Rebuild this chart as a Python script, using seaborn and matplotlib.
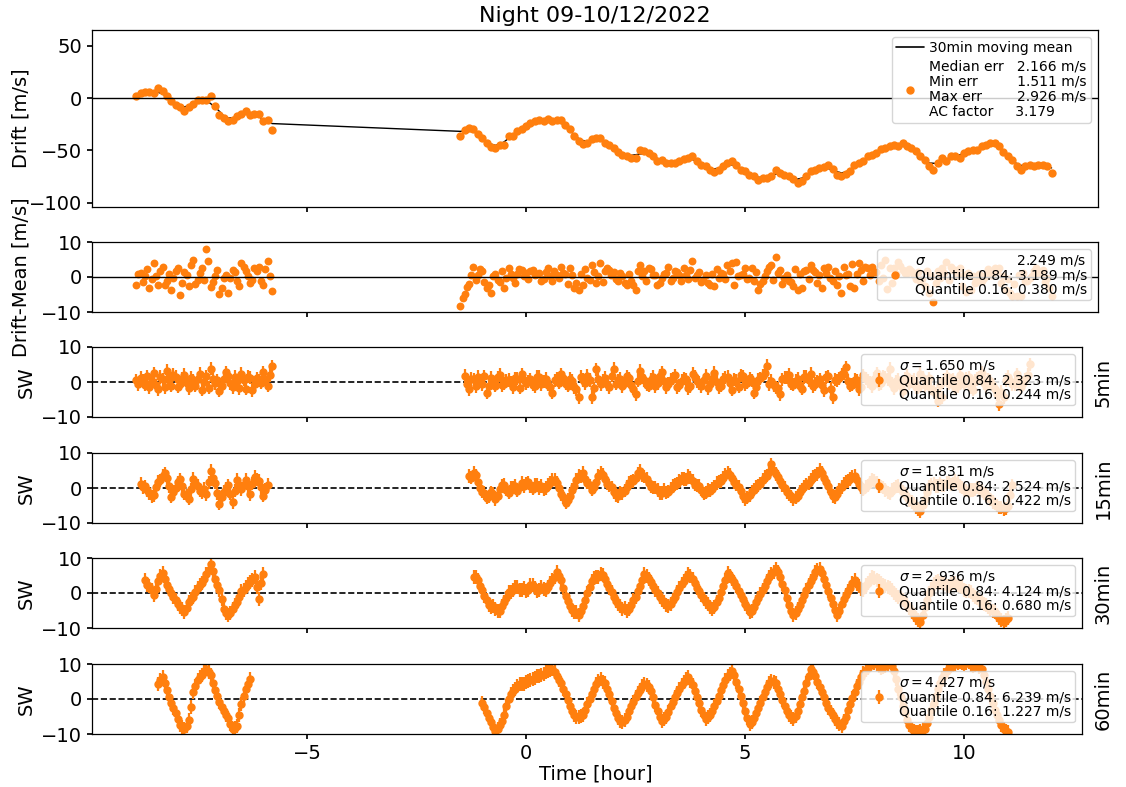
import numpy as np
import pandas as pd
import matplotlib
matplotlib.use("Agg")
import matplotlib.pyplot as plt
import seaborn as sns
from matplotlib.lines import Line2D

# ---------------- data ----------------
CADENCE = 0.1   # hours between samples of the main lists
HALF = 0.05     # the "_mid" lists are read half-way between those samples

# Drift [m/s]
drift_seg1_t0 = -8.9
drift_seg1 = [1.6, 4.8, 5.4, 6.0, 4.8, 9.5, 6.3, 1.6, -3.2, -6.3, -8.6, -12.7, -8.6, -5.4,
              -1.6, -2.2, -2.2, 1.6, -7.9, -15.9, -19.0, -22.2, -20.6, -17.5, -14.9, -12.7,
              -15.9, -14.9, -14.9, -22.2, -20.6, -30.2]
drift_seg2_t0 = -1.5
drift_seg2 = [-36.5, -30.2, -28.6, -29.5, -34.0, -38.0, -42.9, -46.7, -47.6, -44.4, -44.4,
              -36.5, -35.9, -31.7, -29.5, -27.0, -23.8, -22.2, -21.3, -22.2, -20.0, -22.2,
              -21.3, -21.3, -25.4, -29.5, -35.9, -41.3, -43.5, -42.9, -39.0, -38.0, -38.0,
              -42.9, -44.4, -47.6, -51.7, -54.0, -55.6, -57.1, -57.1, -49.8, -50.8, -52.4,
              -54.9, -60.3, -58.7, -61.9, -61.9, -61.9, -60.3, -58.1, -57.1, -54.9, -60.3,
              -63.5, -65.1, -68.3, -70.8, -68.3, -65.1, -61.9, -60.3, -63.5, -68.3, -69.8,
              -73.0, -74.6, -77.8, -76.2, -76.2, -74.6, -68.3, -71.4, -73.0, -74.6, -77.1,
              -81.0, -79.4, -74.6, -69.8, -68.3, -66.7, -65.7, -63.5, -67.6, -73.0, -74.6,
              -72.1, -69.8, -63.5, -61.9, -60.3, -55.6, -54.0, -52.4, -48.6, -47.6, -46.0,
              -44.4, -46.0, -42.9, -46.0, -47.6, -50.8, -55.6, -58.7, -65.1, -68.3, -61.9,
              -57.1, -60.3, -55.6, -54.9, -57.1, -52.4, -50.8, -49.2, -49.2, -46.0, -44.4,
              -42.9, -42.9, -46.0, -51.7, -54.9, -58.7, -65.1, -68.3, -65.1, -63.5, -65.1,
              -63.5, -63.5, -65.1, -71.4]

# Drift - Mean [m/s]
resid_seg1_t0 = -8.9
resid_seg1 = [-2.2, 1.1, 0.3, -3.1, 4.0, -2.2, 3.0, -1.2, -3.6, 1.6, -5.0, 1.5, -2.7, 5.0,
              -0.8, 2.5, 8.1, -2.9, 0.2, -4.9, -0.3, -4.6, 2.1, -1.2, 4.0, 1.6, -1.7, 2.6,
              3.0, -2.2, 4.7, -3.9]
resid_seg1_mid = [0.8, -1.5, 2.2, -0.6, 0.4, 1.8, -2.4, 0.9, -0.2, 2.6, -1.8, 0.5, 3.4, -2.0,
                  1.2, -0.9, 4.6, -1.4, 2.0, -3.2, 0.7, -0.4, 1.5, -2.6, 2.8, 0.2, -0.8, 1.7,
                  -1.2, 2.4, 0.4]
resid_seg2_t0 = -1.5
resid_seg2 = [-8.2, -4.9, -2.0, 2.8, 0.5, 1.8, -3.1, -4.6, 1.0, -1.5, -3.0, 2.6, -0.4, 0.8,
              2.0, 1.2, 1.6, 0.5, 1.2, -0.5, 2.5, -1.2, 0.7, 3.0, 1.0, 2.5, -3.1, -3.6, -2.2,
              -0.3, 3.5, -1.7, 4.0, 1.6, 2.0, 1.4, -1.2, 0.2, -2.2, -1.0, -3.6, 3.5, 1.6, 2.5,
              0.5, -2.2, -0.3, 1.2, -1.0, 1.8, 0.5, 2.5, -0.7, 4.7, 0.6, -1.3, 0.6, -2.2,
              -2.5, -0.3, 1.0, 3.5, 4.0, 4.4, 0.6, 2.5, -0.4, -1.2, -3.6, -1.0, 1.6, 3.5,
              5.6, 2.1, -0.3, -1.2, -2.5, -3.6, -3.1, 2.0, 3.5, 1.5, 0.7, 2.5, 3.0, -1.2,
              -2.2, -4.6, 0.6, -2.5, -3.1, 4.0, -1.2, 2.6, 3.0, 1.5, 3.5, 5.0, 2.5, 2.6, 4.4,
              2.0, 1.2, 1.6, -0.5, -1.2, -2.5, -4.6, -7.0, 1.6, 2.5, 4.4, 3.0, 2.0, 2.6, 0.5,
              1.2, 0.2, -1.2, -1.0, 0.5, 0.7, 2.6, 2.5, 0.2, -0.5, -5.5, -5.5, -5.5, -1.0,
              -0.3, 1.6, 1.0, 2.0, -0.3, -5.5]
resid_seg2_mid = [-6.0, -2.8, 0.6, -0.8, 2.2, -1.5, -2.2, 0.4, -0.9, 1.6, -0.3, 0.9, -1.8, 2.4,
                  0.3, -0.6, 2.0, 0.8, -1.0, 1.4, 0.2, 1.8, -0.4, 1.1, -2.0, 0.6, -1.6, 0.9,
                  2.2, -0.8, 1.3, 0.4, -1.4, 2.6, 0.5, -0.5, 1.2, -1.6, 0.8, -2.4, 1.7, 0.4,
                  -1.0, 2.2, 0.6, -1.8, 1.0, 2.8, -0.4, 1.5, -1.2, 0.6, 2.0, -0.2, 1.4, -0.9,
                  -1.6, 0.8, 2.4, 1.2, -0.6, 1.8, -2.4, 0.4, 1.0, -0.7, 2.6, 1.4, -1.9, 0.3,
                  3.0, -0.8, 1.2, -2.0, 0.5, -1.4, 2.2, 0.8, 1.6, -0.5, 1.9, -1.6, -3.0, 1.1,
                  -0.4, 1.7, 0.2, 2.8, 1.0, 3.8, 0.9, 2.0, 3.0, 0.6, 1.5, -1.0, -0.2, -3.5,
                  -1.6, 0.8, 3.2, 1.2, 2.4, 0.6, 1.5, -0.6, 1.8, 0.4, -1.6, -0.3, 1.2, -0.8,
                  1.9, 0.5, -2.6, -4.2, -3.6, -1.6, 0.8, -0.4, 2.4, 0.6, 1.6, -1.8, -3.8,
                  -4.6, -2.0, 0.6, 1.2, -1.0, 0.4, 2.6, 0.8, -1.4, -3.2]

# SW 5 min
sw5_seg1_t0 = -8.9
sw5_seg1 = [0.5, 1.2, -0.8, -1.5, 2.5, -2.0, 0.8, 3.2, -1.0, 1.5, -0.5, 2.0, -1.8, 0.3, 1.0,
            -2.2, 1.6, 3.8, -0.4, -2.5, 0.9, 1.8, -1.5, 0.2, 2.4, -1.9, 1.2, -0.6, 0.5, 2.8,
            -1.0, 4.5]
sw5_seg1_mid = [-0.6, 0.4, 1.6, 0.2, -0.9, 1.4, -1.5, 0.6, 2.1, -1.3, 0.9, -0.4, 1.2, -1.0,
                2.4, 0.1, -1.6, 1.0, 0.5, -1.2, 2.8, -0.3, 1.4, -1.8, 0.7, 1.5, -2.3, 1.1,
                -0.2, 0.8, 2.0]
sw5_seg2_t0 = -1.4
sw5_seg2 = [1.8, -2.0, 0.8, 1.5, -0.6, -3.0, 1.2, -1.0, 2.0, -0.5, 0.6, -1.5, 1.0, 2.2, -0.4,
            0.8, -1.2, 1.5, 0.2, -0.8, -3.0, 1.0, 2.2, -0.5, 0.9, -1.4, -4.4, 0.6, 1.8, -4.4,
            3.6, -0.6, 1.2, -1.5, 3.7, 0.4, -1.2, 1.6, -0.8, -3.4, 3.2, 0.5, -1.0, 1.4, -0.4,
            2.8, -1.5, 0.7, 1.9, -0.9, 1.0, -1.8, 2.3, 0.2, -1.1, 1.7, -0.5, 2.6, -1.4, 0.8,
            1.5, -2.2, 0.4, 1.9, -0.7, 1.1, -3.0, 0.6, 1.8, 4.7, 0.3, -1.6, -3.4, 1.2, 2.0,
            -0.8, 0.9, -1.9, 1.5, 2.4, -0.6, 0.8, -2.4, 1.6, -4.4, 0.5, 2.2, 4.2, -1.0, 0.7,
            -2.0, 1.9, 0.3, -1.2, 2.5, -0.4, 1.3, 3.7, -1.7, 0.6, -2.6, 1.8, 0.2, -1.4, 2.4,
            -0.9, 1.1, -2.8, -5.3, -4.4, 1.6, 0.4, -1.6, 2.1, -0.5, 1.3, -2.2, 0.9, 2.6, -1.2,
            0.4, -2.0, -6.3, -4.4, 1.5, -0.7, 2.2, -1.5, 0.8, 5.1]
sw5_seg2_mid = [-0.5, 0.9, -1.2, 0.4, 1.6, -1.1, 0.2, 1.3, -0.9, 0.5, -0.3, 1.1, -1.6, 0.7,
                0.2, -0.8, 1.4, -0.6, 0.9, -1.3, 0.5, -0.2, 1.2, -1.0, 0.3, -2.1, 1.5, -0.4,
                0.6, -1.8, 1.0, 0.3, -0.7, 1.8, -0.5, 0.9, -0.2, 1.1, -1.9, 0.4, 1.3, -0.8,
                0.6, -1.2, 1.7, 0.2, -0.6, 1.0, -1.4, 0.3, 0.8, -1.1, 1.5, -0.3, 0.5, -1.7,
                0.9, 0.1, -1.0, 1.2, -0.4, 0.7, -1.3, 1.6, -0.2, 0.4, -1.5, 1.1, 2.5, -0.6,
                -0.9, -1.8, 0.8, 1.2, -0.5, 0.3, -1.0, 1.4, 0.6, -1.2, 0.2, -0.9, 1.3, -2.0,
                0.7, 1.1, 2.4, 0.3, -0.8, 0.5, -1.3, 1.0, -0.2, 0.9, -0.7, 1.6, 0.8, -0.6,
                0.2, -1.1, 0.9, -0.5, 0.6, -1.6, 1.2, -0.4, -1.9, -3.2, -0.8, 0.7, -0.5, 0.8,
                -1.2, 0.4, 1.0, -1.4, 0.5, 1.2, -0.3, 0.8, -1.0, -3.5, -2.8, 0.6, 0.4, -0.6,
                0.9, -0.4, 2.0]

# SW 15 min
sw15_seg1_t0 = -8.8
sw15_seg1 = [1.2, 0.5, -1.5, -2.0, 1.8, 3.4, 3.0, -2.5, 0.0, 2.5, -1.6, -3.0, 2.6, 0.6, -1.2,
             -1.8, 4.9, 1.5, -4.5, -1.0, 0.8, -4.0, 2.3, -0.4, 2.4, -1.8, 3.2, 2.0, -2.2, 1.0]
sw15_seg1_mid = [0.2, -0.6, -2.4, 0.3, 2.2, 4.2, 0.5, -1.0, 1.6, 0.5, -2.2, -0.4, 1.5, -0.8,
                 -0.3, 1.6, 2.8, -1.5, -2.6, -0.3, -1.6, -0.8, 1.0, 0.8, 0.5, 1.2, 2.4, 0.2,
                 -0.6]
sw15_seg2_t0 = -1.3
sw15_seg2 = [3.4, 4.4, 1.6, -1.0, -2.8, -1.2, -3.2, -0.4, 1.0, -1.3, 0.2, -0.8, 1.5, 1.2, 0.6,
             0.9, 0.0, -0.4, 1.0, 2.3, 1.4, -1.8, -4.2, -2.3, 0.6, 3.4, 4.4, 1.5, -0.5, 1.8,
             4.4, 2.6, 0.8, -1.2, -2.3, -1.5, 0.4, 1.9, 3.0, 4.9, 3.2, 1.4, 0.2, -0.6, -1.4,
             -1.3, -0.2, 1.0, 2.0, 2.6, 3.4, 2.0, 0.8, -0.5, -1.3, -0.8, 0.5, 1.8, 3.0, 4.4,
             2.8, 1.0, -0.8, -3.2, -2.0, -0.5, 0.8, 2.3, 3.5, 6.8, 4.0, 2.0, 0.0, -1.8, -3.2,
             -2.2, -0.4, 1.0, 2.4, 3.6, 5.2, 3.0, 0.5, -2.3, -1.6, 0.3, 1.8, 2.6, 3.4, 1.2,
             -0.5, 0.8, 2.5, 1.6, 0.4, -0.6, -1.5, -0.2, 0.6, -1.0, -2.5, -4.0, -5.5, -6.6,
             -3.0, 0.5, 1.2, 0.6, 0.8, 1.5, 1.0, 2.0, 0.6, -0.4, -1.0, -0.6, 0.2, -0.8, -2.0,
             -3.2, -4.5, -5.5, -6.0, -5.0, 0.8]
sw15_seg2_mid = [3.0, 3.6, 0.0, -1.4, -2.4, -1.6, -2.2, 0.8, -0.5, 0.0, 0.6, 0.2, 0.6, 1.6,
                 -0.2, 1.0, 0.6, 0.0, 1.4, 2.4, 0.0, -2.6, -3.4, -0.6, 2.4, 3.2, 2.6, 0.8, 0.4,
                 3.4, 3.8, 1.2, 0.2, -2.0, -1.2, -0.8, 1.4, 2.0, 4.2, 3.6, 2.6, 0.4, 0.2, -1.4,
                 -0.6, -1.0, 0.6, 1.2, 2.8, 2.4, 3.0, 1.0, 0.6, -1.6, -0.4, -0.2, 1.4, 2.0,
                 3.8, 3.8, 1.6, 0.4, -2.4, -2.8, -0.9, 0.4, 1.2, 3.2, 4.6, 5.0, 3.2, 0.8,
                 -1.2, -2.4, -2.8, -1.0, 0.5, 1.4, 3.2, 4.0, 4.4, 1.6, -1.0, -2.6, -0.4, 1.2,
                 2.0, 3.2, 2.2, 0.2, 0.4, 1.6, 2.2, 0.8, 0.2, -1.2, -0.6, 0.4, -0.2, -1.6,
                 -3.4, -4.6, -6.0, -4.8, -1.2, 1.0, 0.6, 1.2, 0.8, 1.6, 1.2, 1.4, 0.2, -0.8,
                 -0.6, -0.4, 0.0, -1.6, -2.4, -4.0, -5.0, -5.6, -5.8, -2.0]

# SW 30 min
sw30_seg1_t0 = -8.7
sw30_seg1 = [3.6, 2.0, -0.5, 3.4, 5.8, 2.2, 0.0, -2.1, -4.0, -5.4, -2.6, -1.0, 1.5, 3.0, 5.5,
             8.4, 4.0, 0.8, -4.5, -6.4, -4.6, -2.5, 0.5, 1.8, 3.2, 4.6, -1.6, 5.5]
sw30_seg1_mid = [2.4, 1.0, 1.2, 4.8, 4.0, 1.2, -1.0, -3.2, -4.6, -4.2, -1.6, 0.2, 2.4, 4.0,
                 6.6, 6.2, 2.2, -1.8, -5.6, -5.6, -3.4, -1.0, 1.0, 2.6, 3.8, 1.6, 2.8]
sw30_seg2_t0 = -1.2
sw30_seg2 = [4.6, 3.6, 0.8, -2.1, -4.0, -4.5, -5.0, -2.5, 0.2, 1.0, 1.6, 1.0, 0.6, 2.2, 1.4,
             1.0, 1.2, 1.8, 3.6, 6.0, 3.6, -0.8, -3.8, -5.5, -6.4, -3.8, 0.0, 3.5, 4.6, 5.5,
             4.0, 1.5, -1.0, -3.0, -4.5, -5.0, -3.5, -1.0, 2.0, 5.5, 4.0, 2.0, 0.0, -2.0, -3.5,
             -3.0, -1.0, 1.5, 3.5, 5.5, 4.0, 1.5, -0.5, -2.5, -4.0, -4.0, -1.5, 2.0, 5.8, 4.0,
             2.0, -0.5, -3.0, -5.4, -4.0, -1.5, 1.0, 3.5, 5.5, 7.0, 4.5, 1.0, -3.5, -6.4, -4.5,
             -2.0, 1.0, 3.5, 6.0, 7.0, 4.0, 0.5, -3.0, -6.4, -3.0, -0.5, 1.5, 3.6, 2.0, 1.0,
             3.0, 4.5, 3.6, 3.0, 2.0, 1.5, 0.0, -1.0, -2.0, -3.5, -5.5, -7.0, -8.3, -4.0, 0.0,
             2.5, 3.5, 2.8, 2.0, 2.5, 2.8, 2.0, 1.0, 0.6, -0.5, -1.5, -2.5, -3.5, -4.5, -5.5,
             -7.0, -8.3, -7.0]
sw30_seg2_mid = [4.6, 2.0, -0.9, -3.4, -3.6, -5.2, -3.6, -1.4, 0.2, 1.8, 0.8, 1.4, 1.0, 2.4,
                 0.6, 1.6, 0.8, 2.8, 4.6, 5.0, 1.4, -2.2, -4.8, -5.4, -5.0, -2.0, 1.8, 4.2,
                 4.6, 5.2, 2.6, 0.4, -2.2, -3.6, -4.4, -4.6, -2.0, 0.6, 3.8, 5.0, 3.2, 0.8,
                 -1.2, -2.6, -3.8, -2.0, 0.2, 2.6, 4.2, 5.0, 2.8, 0.6, -1.6, -3.0, -4.6, -2.6,
                 0.4, 3.6, 5.0, 3.2, 0.6, -1.8, -4.0, -5.0, -2.6, -0.4, 2.0, 4.6, 6.0, 6.0,
                 2.6, -1.4, -5.0, -5.6, -3.4, -0.6, 2.4, 4.6, 6.6, 5.6, 2.4, -1.4, -4.8, -5.0,
                 -1.8, 0.6, 2.8, 2.6, 1.2, 2.2, 3.6, 4.2, 3.4, 2.4, 1.8, 0.8, -0.6, -1.4, -2.8,
                 -4.4, -6.2, -7.8, -6.4, -2.0, 1.2, 3.2, 3.0, 2.6, 2.0, 2.8, 2.4, 1.6, 0.6,
                 0.2, -1.0, -2.0, -3.0, -4.0, -5.0, -6.2, -7.6, -7.8]

# SW 60 min
sw60_seg1_t0 = -8.4
sw60_seg1 = [4.3, 6.2, 2.5, -1.2, -4.0, -7.5, -8.6, -6.0, 2.0, 5.5, 7.0, 8.6, 6.8, 2.5, -0.8,
             -3.5, -5.5, -8.6, -7.6, -1.5, 3.0, 5.7]
sw60_seg1_mid = [5.4, 4.6, 0.6, -2.6, -5.8, -8.0, -7.6, -2.2, 3.8, 6.4, 7.6, 7.8, 4.6, 0.8,
                 -2.2, -4.6, -7.0, -8.2, -4.6, 0.8, 4.4]
sw60_seg2_t0 = -1.0
sw60_seg2 = [-1.0, -4.0, -6.5, -9.0, -7.5, -4.5, 0.0, 2.4, 3.8, 4.3, 4.8, 5.5, 6.0, 6.7, 7.2,
             8.0, 8.6, 6.5, 4.5, 1.5, -2.0, -4.5, -5.2, -4.5, -1.5, 1.5, 4.3, 5.7, 4.5, 1.5,
             -2.5, -5.5, -6.7, -5.0, -2.0, 0.5, 2.5, 4.3, 3.5, 0.5, -3.5, -6.2, -5.0, -2.0, 0.5,
             3.0, 5.0, 6.2, 4.0, 0.5, -3.0, -5.7, -4.5, -2.0, 1.0, 4.0, 6.5, 8.1, 5.0, 1.0,
             -3.5, -7.1, -5.5, -2.5, 0.5, 3.5, 5.2, 4.5, 1.5, -2.0, -4.5, -5.7, -3.5, 0.5, 4.5,
             8.6, 6.5, 3.5, 0.5, -2.5, -4.5, -6.5, -7.6, -5.0, -1.5, 2.0, 5.0, 7.5, 9.0, 10.5,
             10.0, 9.0, 9.5, 10.5, 8.0, 3.0, -2.0, -6.0, -8.5, -9.5, -9.0, -8.5, -5.0, -1.0,
             3.0, 6.0, 8.0, 9.5, 10.0, 10.5, 10.0, 10.5, 9.5, 10.0, 8.5, 5.0, 1.0, -3.0, -6.0,
             -8.5, -9.5]
sw60_seg2_mid = [-2.4, -5.4, -8.0, -8.6, -6.2, -2.0, 1.4, 3.0, 4.2, 4.4, 5.2, 5.6, 6.6, 6.8,
                 7.8, 8.2, 7.6, 5.4, 3.0, -0.4, -3.4, -5.0, -4.8, -3.2, 0.0, 3.0, 5.2, 5.0,
                 3.0, -0.6, -4.0, -6.4, -6.0, -3.4, -0.8, 1.6, 3.6, 4.0, 2.2, -1.6, -5.0, -5.6,
                 -3.6, -0.8, 1.8, 4.0, 5.8, 5.2, 2.2, -1.2, -4.6, -5.0, -3.4, -0.6, 2.6, 5.4,
                 7.2, 6.8, 3.0, -1.2, -5.4, -6.6, -4.0, -1.0, 2.0, 4.6, 5.0, 3.0, -0.2, -3.4,
                 -5.2, -4.8, -1.4, 2.4, 6.6, 7.6, 5.0, 2.0, -1.0, -3.6, -5.6, -7.2, -6.4, -3.2,
                 0.2, 3.6, 6.4, 8.4, 9.8, 10.2, 9.4, 9.2, 10.0, 9.4, 5.6, 0.6, -4.0, -7.4,
                 -9.0, -9.4, -8.6, -6.8, -3.0, 1.0, 4.6, 7.0, 8.8, 9.8, 10.2, 10.2, 10.4, 9.8,
                 9.8, 9.2, 7.0, 3.0, -1.0, -4.6, -7.4, -9.0]

sw_err = {"5min": 1.9, "15min": 1.9, "30min": 2.0, "60min": 2.0}

top_stats = {"median": "2.166", "min": "1.511", "max": "2.926", "ac": "3.179"}
resid_stats = ("2.249", "3.189", "0.380")
sw_stats = {"5min": ("1.650", "2.323", "0.244"),
            "15min": ("1.831", "2.524", "0.422"),
            "30min": ("2.936", "4.124", "0.680"),
            "60min": ("4.427", "6.239", "1.227")}

x_ticks = [-5, 0, 5, 10]


def times(t0, vals, offset=0.0):
    return t0 + offset + CADENCE * np.arange(len(vals))


def series(*segments):
    """segments: (t0, main_values, mid_values)"""
    ts, vs = [], []
    for t0, main, mid in segments:
        ts += [times(t0, main), times(t0, mid, HALF)]
        vs += [np.asarray(main, float), np.asarray(mid, float)]
    t = np.concatenate(ts)
    v = np.concatenate(vs)
    order = np.argsort(t, kind="stable")
    return t[order], v[order]


# ---------------- style ----------------
sns.set_theme(style="ticks")
plt.rcParams.update({
    "font.family": ["DejaVu Sans"],
    "axes.edgecolor": "black",
    "axes.linewidth": 0.9,
    "xtick.color": "black",
    "ytick.color": "black",
    "axes.labelcolor": "black",
    "text.color": "black",
    "xtick.labelsize": 14,
    "ytick.labelsize": 14,
    "axes.labelsize": 14,
    "legend.fontsize": 10,
    "xtick.major.size": 3.5,
    "ytick.major.size": 3.5,
})
ORANGE = "#ff7f0e"

W, H = 1126, 787
fig = plt.figure(figsize=(W / 100, H / 100), dpi=100)


def add_ax(l, r, t, b, share=None):
    return fig.add_axes([l / W, 1 - b / H, (r - l) / W, (b - t) / H], sharex=share)


ax0 = add_ax(92, 1098, 30, 207)
ax1 = add_ax(92, 1098, 242, 312, ax0)
SW_RIGHT = 1082
ax_sw = [add_ax(92, SW_RIGHT, 347, 417), add_ax(92, SW_RIGHT, 453, 523),
         add_ax(92, SW_RIGHT, 558, 628), add_ax(92, SW_RIGHT, 664, 734)]


def tight_legend(leg, spacing=1.0):
    for txt in leg.get_texts():
        txt.set_linespacing(spacing)
    return leg


# ---- top panel: drift ----
t1, t2 = times(drift_seg1_t0, drift_seg1), times(drift_seg2_t0, drift_seg2)
t_d = np.concatenate([t1, t2])
v_d = np.concatenate([drift_seg1, drift_seg2])
mm1 = pd.Series(drift_seg1).rolling(5, center=True, min_periods=1).mean().values
mm2 = pd.Series(drift_seg2).rolling(5, center=True, min_periods=1).mean().values
mm = np.concatenate([mm1, mm2])
sns.lineplot(x=t_d, y=mm, ax=ax0, color="black", lw=1.0, estimator=None, sort=False, zorder=1)
sns.scatterplot(x=t_d, y=v_d, ax=ax0, color=ORANGE, s=36, linewidth=0, zorder=2)
ax0.axhline(0, color="black", lw=1.0, zorder=3)
ax0.set_ylim(-104, 65)
ax0.set_yticks([-100, -50, 0, 50])
ax0.set_ylabel("Drift [m/s]")
ax0.set_title("Night 09-10/12/2022", fontsize=16)
h_top = [Line2D([], [], color="black", lw=1.2),
         Line2D([], [], color=ORANGE, marker="o", ls="", ms=5)]
l_top = ["30min moving mean",
         f"Median err   {top_stats['median']} m/s\nMin err         {top_stats['min']} m/s\n"
         f"Max err        {top_stats['max']} m/s\nAC factor     {top_stats['ac']}"]
tight_legend(ax0.legend(h_top, l_top, loc="upper right", fontsize=10, handletextpad=0.4,
                        labelspacing=0.3, borderpad=0.3), 1.1)

# ---- panel 2: drift - mean ----
t_r, v_r = series((resid_seg1_t0, resid_seg1, resid_seg1_mid),
                  (resid_seg2_t0, resid_seg2, resid_seg2_mid))
sns.scatterplot(x=t_r, y=v_r, ax=ax1, color=ORANGE, s=32, linewidth=0, zorder=2)
ax1.axhline(0, color="black", lw=1.0, zorder=3)
ax1.set_ylim(-10, 10)
ax1.set_yticks([-10, 0, 10])
ax1.set_ylabel("Drift-Mean [m/s]")
lab = ("$\\sigma$" + " " * 21 + f"{resid_stats[0]} m/s\nQuantile 0.84: {resid_stats[1]} m/s\n"
       f"Quantile 0.16: {resid_stats[2]} m/s")
tight_legend(ax1.legend([Line2D([], [], color=ORANGE, marker="o", ls="", ms=5)], [lab],
                        loc="upper right", fontsize=10, handletextpad=0.4, borderpad=0.3))

ax0.set_xticks(x_ticks)
ax0.set_xlim(-9.91, 13.06)
for ax in (ax0, ax1):
    ax.tick_params(labelbottom=False)
    ax.yaxis.set_label_coords(-0.061, 0.5)

# ---- SW panels ----
sw_data = {
    "5min": series((sw5_seg1_t0, sw5_seg1, sw5_seg1_mid), (sw5_seg2_t0, sw5_seg2, sw5_seg2_mid)),
    "15min": series((sw15_seg1_t0, sw15_seg1, sw15_seg1_mid),
                    (sw15_seg2_t0, sw15_seg2, sw15_seg2_mid)),
    "30min": series((sw30_seg1_t0, sw30_seg1, sw30_seg1_mid),
                    (sw30_seg2_t0, sw30_seg2, sw30_seg2_mid)),
    "60min": series((sw60_seg1_t0, sw60_seg1, sw60_seg1_mid),
                    (sw60_seg2_t0, sw60_seg2, sw60_seg2_mid)),
}
for i, (ax, (name, (t, v))) in enumerate(zip(ax_sw, sw_data.items())):
    s, q84, q16 = sw_stats[name]
    ax.axhline(0, color="black", lw=1.2, ls="--", zorder=1)
    ax.errorbar(t, v, yerr=sw_err[name], fmt="o", color=ORANGE, ms=5, elinewidth=1.6,
                zorder=2,
                label=f"$\\sigma = {s}$ m/s\nQuantile 0.84: {q84} m/s\nQuantile 0.16: {q16} m/s")
    ax.set_ylim(-10, 10)
    ax.set_yticks([-10, 0, 10])
    ax.set_xticks(x_ticks)
    ax.set_xlim(-9.91, 12.69)
    ax.set_ylabel("SW")
    tight_legend(ax.legend(loc="upper right", fontsize=10, handletextpad=0.4, borderpad=0.3))
    ax.text(1 + 12 / (SW_RIGHT - 92), 0.5, name, transform=ax.transAxes, rotation=90,
            va="center", ha="left", fontsize=14)
    if i < 3:
        ax.tick_params(labelbottom=False)

ax_sw[-1].set_xlabel("Time [hour]")
ax_sw[-1].xaxis.set_label_coords(0.509, -0.43)

fig.savefig("out.png", dpi=100)
